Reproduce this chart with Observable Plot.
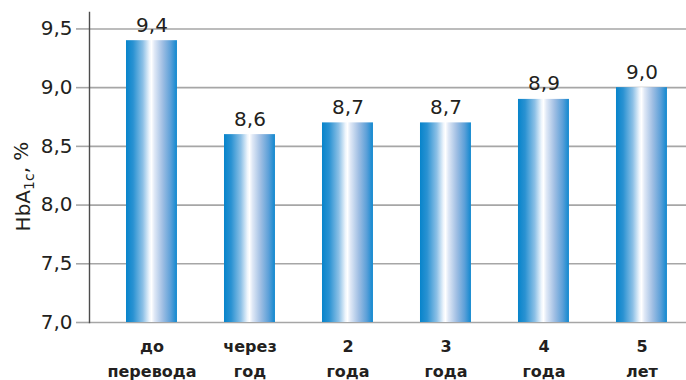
<!DOCTYPE html>
<html>
<head>
<meta charset="utf-8">
<script src="https://cdn.jsdelivr.net/npm/d3@7"></script>
<script src="https://cdn.jsdelivr.net/npm/@observablehq/plot@0.6"></script>
<style>
  body { margin: 0; background: #fff; }
  #chart svg { display: block; }
</style>
</head>
<body>
<div id="chart"></div>
<script>
// HbA1c before and after switching therapy, by year of follow-up
const categories = ["до\nперевода", "через\nгод", "2\nгода", "3\nгода", "4\nгода", "5\nлет"];
const values = [9.4, 8.6, 8.7, 8.7, 8.9, 9.0];
const yTicks = [7.0, 7.5, 8.0, 8.5, 9.0, 9.5];
const yDomain = [7.0, 9.64];
const yLabel = "HbA1c, %";

const fmt = v => d3.format(".1f")(v).replace(".", ",");
const data = categories.map((category, i) => ({category, value: values[i]}));

// Horizontal "cylinder" shading used for every bar
function barGradient() {
  const defs = d3.create("svg:defs");
  const g = defs.append("linearGradient")
    .attr("id", "bar-shine")
    .attr("x1", 0).attr("x2", 1).attr("y1", 0).attr("y2", 0);
  [
    [0, "#0784cb"], [0.14, "#2a92d2"], [0.33, "#8cc0e6"], [0.46, "#eef5fc"],
    [0.5, "#ffffff"], [0.56, "#dfe8f6"], [0.72, "#9fbee3"], [0.88, "#5a9fd8"],
    [1, "#1088cf"]
  ].forEach(([o, c]) => g.append("stop").attr("offset", o).attr("stop-color", c));
  return defs.node();
}

const chart = Plot.plot({
  width: 686,
  height: 380,
  marginLeft: 89,
  marginRight: 0,
  marginTop: 12,
  marginBottom: 58,
  style: {fontFamily: "DejaVu Sans", color: "#231f20", background: "#fff"},
  x: {domain: categories, paddingInner: 0.48, paddingOuter: 0.286, align: 0.66, round: false, label: null},
  y: {domain: yDomain, label: null},
  marks: [
    barGradient,
    Plot.gridY(yTicks, {stroke: "#a6a6a6", strokeOpacity: 1, strokeWidth: 1.6}),
    Plot.axisY({
      ticks: yTicks, tickFormat: fmt, tickSize: 13, tickPadding: 4,
      fontSize: 20, stroke: "#a6a6a6", strokeWidth: 1.6, label: null
    }),
    Plot.axisX({
      tickSize: 0, tickPadding: 12, fontSize: 16, fontWeight: "bold",
      lineHeight: 1.56, label: null
    }),
    Plot.barY(data, {x: "category", y1: yDomain[0], y2: "value", fill: "url(#bar-shine)"}),
    Plot.frame({anchor: "left", stroke: "#4d4d4d", strokeWidth: 1.4}),
    Plot.text(data, {
      x: "category", y: "value", text: d => fmt(d.value),
      lineAnchor: "bottom", dy: -9, fontSize: 20
    }),
    Plot.text([yLabel], {
      frameAnchor: "left", textAnchor: "middle", rotate: -90,
      dx: -66, dy: 19, fontSize: 20
    })
  ]
});

// Subscript "1c" in the axis title
d3.select(chart).selectAll("text").each(function() {
  if (this.textContent !== yLabel) return;
  const t = d3.select(this);
  t.text(null);
  t.append("tspan").text("HbA");
  t.append("tspan").attr("font-size", "70%").attr("dy", "0.3em").text("1c");
  t.append("tspan").attr("dy", "-0.3em").text(", %");
});

document.getElementById("chart").append(chart);
</script>
</body>
</html>
